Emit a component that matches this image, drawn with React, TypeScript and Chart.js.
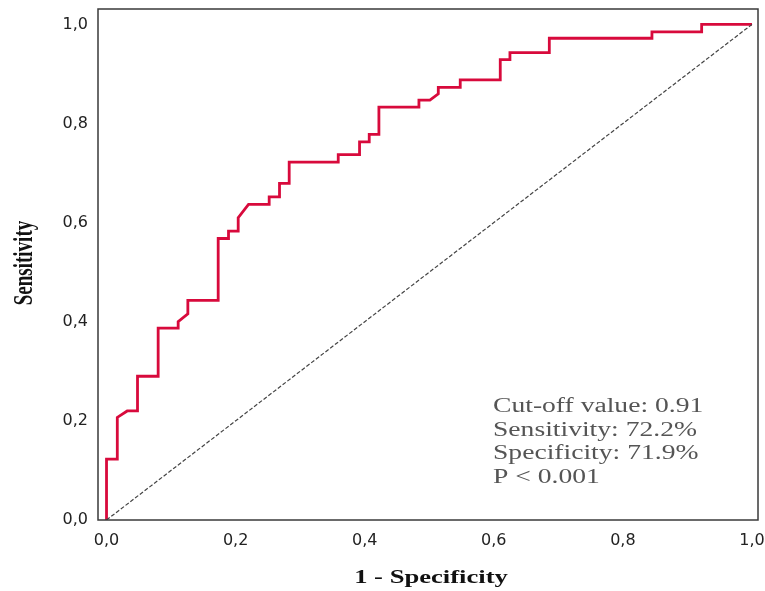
import { useEffect, useRef } from "react";
import { Chart, registerables } from "chart.js";

Chart.register(...registerables);

// ROC curve points (1 - specificity, sensitivity)
const FPR = [
  0, 0, 0.0167, 0.0167, 0.032, 0.048, 0.048, 0.08, 0.08, 0.111, 0.111, 0.126, 0.126,
  0.173, 0.173, 0.189, 0.189, 0.204, 0.204, 0.22, 0.252, 0.252, 0.268, 0.268, 0.283,
  0.283, 0.359, 0.359, 0.392, 0.392, 0.407, 0.407, 0.422, 0.422, 0.484, 0.484, 0.501,
  0.514, 0.514, 0.548, 0.548, 0.61, 0.61, 0.625, 0.625, 0.686, 0.686, 0.845, 0.845,
  0.922, 0.922, 1,
];
const TPR = [
  0, 0.123, 0.123, 0.207, 0.22, 0.22, 0.29, 0.29, 0.387, 0.387, 0.4, 0.416, 0.443,
  0.443, 0.568, 0.568, 0.583, 0.583, 0.61, 0.637, 0.637, 0.652, 0.652, 0.679, 0.679,
  0.722, 0.722, 0.737, 0.737, 0.763, 0.763, 0.778, 0.778, 0.833, 0.833, 0.847, 0.847,
  0.86, 0.873, 0.873, 0.888, 0.888, 0.929, 0.929, 0.943, 0.943, 0.972, 0.972, 0.985,
  0.985, 1, 1,
];
const REF_X = [0, 1];
const REF_Y = [0, 1];

const TICK_VALUES = [0, 0.2, 0.4, 0.6, 0.8, 1.0];
const TICK_LABELS = ["0,0", "0,2", "0,4", "0,6", "0,8", "1,0"];

const X_TITLE = "1 - Specificity";
const Y_TITLE = "Sensitivity";
const NOTE_LINES = [
  "Cut-off value: 0.91",
  "Sensitivity: 72.2%",
  "Specificity: 71.9%",
  "P < 0.001",
];

const STRETCH = 1.4;

const labelFor = (v: number) => {
  const i = TICK_VALUES.findIndex((t) => Math.abs(t - v) < 1e-6);
  return i >= 0 ? TICK_LABELS[i] : "";
};

const decorPlugin = {
  id: "decor",
  afterDraw(chart: any) {
    const ctx = chart.ctx as CanvasRenderingContext2D;
    const a = chart.chartArea;
    ctx.save();
    // frame
    ctx.strokeStyle = "#3a3a3a";
    ctx.lineWidth = 1.5;
    ctx.strokeRect(a.left, a.top, a.right - a.left, a.bottom - a.top);

    // x title
    ctx.fillStyle = "#111";
    ctx.font = "bold 19px 'Liberation Serif', serif";
    ctx.textAlign = "center";
    ctx.textBaseline = "alphabetic";
    ctx.save();
    ctx.translate(431, 583);
    ctx.scale(STRETCH, 1);
    ctx.fillText(X_TITLE, 0, 0);
    ctx.restore();

    // y title
    ctx.save();
    ctx.translate(25, 263);
    ctx.scale(STRETCH, 1);
    ctx.rotate(-Math.PI / 2);
    ctx.textBaseline = "middle";
    ctx.fillText(Y_TITLE, 0, 0);
    ctx.restore();

    // note
    ctx.fillStyle = "#555";
    ctx.font = "20px 'Liberation Serif', serif";
    ctx.textAlign = "left";
    ctx.textBaseline = "alphabetic";
    NOTE_LINES.forEach((line, i) => {
      ctx.save();
      ctx.translate(493, 412 + i * 23.7);
      ctx.scale(STRETCH - 0.02, 1);
      ctx.fillText(line, 0, 0);
      ctx.restore();
    });
    ctx.restore();
  },
};

export default function App() {
  const ref = useRef<HTMLCanvasElement | null>(null);

  useEffect(() => {
    document.body.style.margin = "0";
    const canvas = ref.current!;
    const tickFont = { family: "'DejaVu Sans', sans-serif", size: 16 };
    const chart = new Chart(canvas, {
      type: "scatter",
      data: {
        datasets: [
          {
            label: "Reference",
            data: REF_X.map((x, i) => ({ x, y: REF_Y[i] })),
            showLine: true,
            borderColor: "#444",
            borderWidth: 1.2,
            borderDash: [4, 2],
            pointRadius: 0,
            fill: false,
          },
          {
            label: "ROC",
            data: FPR.map((x, i) => ({ x, y: TPR[i] })),
            showLine: true,
            borderColor: "#d80a3c",
            borderWidth: 2.8,
            pointRadius: 0,
            fill: false,
            tension: 0,
          },
        ],
      },
      options: {
        responsive: false,
        animation: false,
        layout: { padding: { top: 9, right: 7, left: 0, bottom: 0 } },
        plugins: {
          legend: { display: false },
          tooltip: { enabled: false },
          title: { display: false },
        },
        scales: {
          x: {
            type: "linear",
            min: -0.0132,
            max: 1.0093,
            grid: { display: false, drawTicks: false },
            border: { display: false },
            afterBuildTicks: (s: any) => {
              s.ticks = TICK_VALUES.map((v) => ({ value: v }));
            },
            afterFit: (s: any) => {
              s.height = 71;
              s.paddingLeft = 0;
              s.paddingRight = 0;
              s.paddingTop = 0;
              s.paddingBottom = 0;
            },
            ticks: {
              autoSkip: false,
              maxRotation: 0,
              padding: 11,
              color: "#222",
              font: tickFont,
              callback: (v: any) => labelFor(Number(v)),
            },
          },
          y: {
            type: "linear",
            min: 0,
            max: 1.031,
            grid: { display: false, drawTicks: false },
            border: { display: false },
            afterBuildTicks: (s: any) => {
              s.ticks = TICK_VALUES.map((v) => ({ value: v }));
            },
            afterFit: (s: any) => {
              s.width = 98;
              s.paddingLeft = 0;
              s.paddingRight = 0;
              s.paddingTop = 0;
              s.paddingBottom = 0;
            },
            ticks: {
              autoSkip: false,
              padding: 10,
              color: "#222",
              font: tickFont,
              callback: (v: any) => labelFor(Number(v)),
            },
          },
        },
      },
      plugins: [decorPlugin],
    });
    return () => chart.destroy();
  }, []);

  return (
    <canvas
      ref={ref}
      width={765}
      height={591}
      style={{ display: "block", width: 765, height: 591 }}
    />
  );
}
